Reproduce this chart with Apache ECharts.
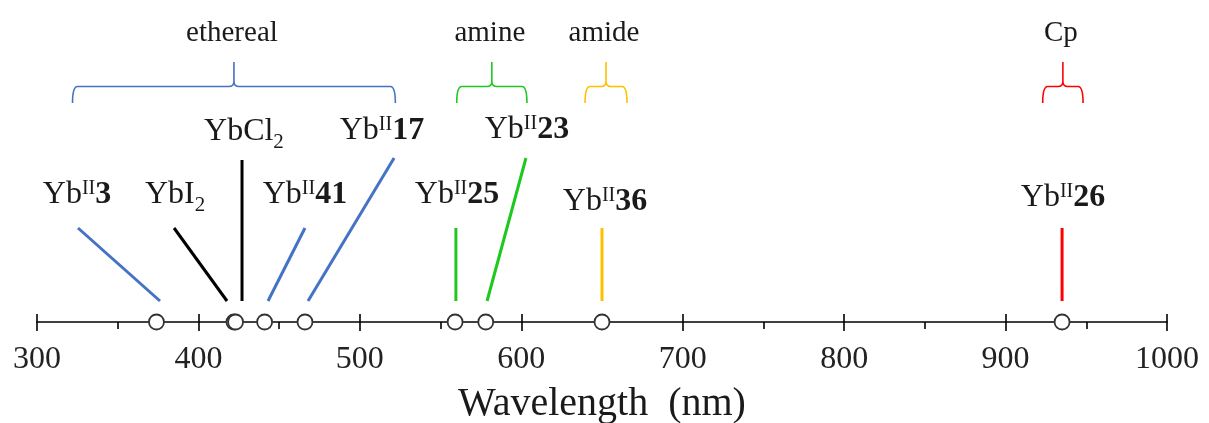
<!DOCTYPE html>
<html>
<head>
<meta charset="utf-8">
<script src="https://cdn.jsdelivr.net/npm/echarts@6/dist/echarts.min.js"></script>
<style>
  html, body { margin: 0; padding: 0; background: #fff; }
  #chart { width: 1209px; height: 423px; }
</style>
</head>
<body>
<div id="chart"></div>
<script>
// Yb(II) species and their absorption maxima (nm)
const species = ['YbII3', 'YbI2', 'YbCl2', 'YbII41', 'YbII17', 'YbII25', 'YbII23', 'YbII36', 'YbII26'];
const speciesLabels = [
  '{t|Yb}{sup|II}{b|3}',
  '{t|YbI}{sub|2}',
  '{t|YbCl}{sub|2}',
  '{t|Yb}{sup|II}{b|41}',
  '{t|Yb}{sup|II}{b|17}',
  '{t|Yb}{sup|II}{b|25}',
  '{t|Yb}{sup|II}{b|23}',
  '{t|Yb}{sup|II}{b|36}',
  '{t|Yb}{sup|II}{b|26}'
];
const wavelengths = [374, 422, 423, 441, 466, 559, 578, 650, 935];
const ligandClass = ['ethereal', null, null, 'ethereal', 'ethereal', 'amine', 'amine', 'amide', 'Cp'];

// ligand classes and the wavelength span (nm) each bracket covers
const classNames = ['ethereal', 'amine', 'amide', 'Cp'];
const classFrom = [322, 560, 639.5, 923];
const classTo = [522, 603.5, 665.5, 948];

// axis ticks (nm)
const tickValues = [300, 400, 500, 600, 700, 800, 900, 1000];
const axisTitle = 'Wavelength  (nm)';

// ---- layout (vertical unit = 1px above the axis) ----
const labelX = [324.8, 385.5, 428.2, 466, 513.7, 560.2, 603.5, 651.9, 935.6];
const labelY = [127, 127, 190, 127, 191, 127, 192, 120, 124];
const leaderTopX = [325.4, 384.9, 427, 466, 521.2, 559.5, 602.9, 650, 935];
const leaderTopY = [94, 94, 162, 94, 164, 94, 164, 94, 94];
const leaderFootX = [376.2, 417.7, 427, 443.1, 467.9, 559.5, 578.8, 650, 935];
const leaderFootY = 21;
const bracketStemTop = 260, bracketBar = 235.5, bracketEnd = 219, bracketTitleY = 289;

const classColors = { ethereal: '#4472C4', amine: '#1EC81E', amide: '#FFC000', Cp: '#FF0000' };
const colorOf = c => (c ? classColors[c] : '#000000');

const SERIF = '"Liberation Serif", "Times New Roman", serif';
const TEXT = '#1a1a1a';
const rich = {
  t:   { fontFamily: SERIF, fontSize: 32, fill: TEXT, verticalAlign: 'middle' },
  b:   { fontFamily: SERIF, fontSize: 32, fontWeight: 'bold', fill: TEXT, verticalAlign: 'middle' },
  sup: { fontFamily: SERIF, fontSize: 20, fill: TEXT, verticalAlign: 'middle', padding: [0, 0, 12, 0] },
  sub: { fontFamily: SERIF, fontSize: 21, fill: TEXT, verticalAlign: 'middle', padding: [20, 0, 0, 0] }
};

const chart = echarts.init(document.getElementById('chart'), null, { renderer: 'canvas' });

const tickStep = tickValues[1] - tickValues[0];
const baseAxis = {
  type: 'value',
  min: tickValues[0],
  max: tickValues[tickValues.length - 1],
  interval: tickStep,
  position: 'bottom',
  splitLine: { show: false }
};

const option = {
  animation: false,
  backgroundColor: '#ffffff',
  grid: { left: 37, right: 42, top: 0, bottom: 101, containLabel: false, outerBoundsMode: 'none' },
  xAxis: [
    Object.assign({}, baseAxis, {
      axisLine: { show: true, lineStyle: { color: '#000', width: 1.6 } },
      axisTick: { show: true, inside: false, length: 9, lineStyle: { color: '#000', width: 1.6 } },
      minorTick: { show: true, splitNumber: 2, length: 7, lineStyle: { color: '#000', width: 1.6 } },
      axisLabel: {
        show: true, margin: 22, fontFamily: SERIF, fontSize: 32, color: '#222',
        formatter: v => String(v)
      },
      name: axisTitle,
      nameLocation: 'middle',
      nameGap: 62,
      nameTextStyle: { fontFamily: SERIF, fontSize: 40, color: TEXT }
    }),
    Object.assign({}, baseAxis, {
      axisLine: { show: false },
      axisTick: { show: true, inside: true, length: 8, lineStyle: { color: '#000', width: 1.6 } },
      axisLabel: { show: false }
    })
  ],
  yAxis: { type: 'value', min: 0, max: 322, show: false },
  series: [
    {
      // leader lines and species labels
      type: 'custom',
      xAxisIndex: 0,
      clip: false,
      z: 3,
      data: wavelengths.map(w => [w, 0]),
      renderItem(params, api) {
        const i = params.dataIndex;
        const top = api.coord([leaderTopX[i], leaderTopY[i]]);
        const foot = api.coord([leaderFootX[i], leaderFootY]);
        const lab = api.coord([labelX[i], labelY[i]]);
        return {
          type: 'group',
          children: [
            {
              type: 'line',
              shape: { x1: top[0], y1: top[1], x2: foot[0], y2: foot[1] },
              style: { stroke: colorOf(ligandClass[i]), lineWidth: 3, lineCap: 'butt' }
            },
            {
              type: 'text',
              x: lab[0],
              y: lab[1],
              style: { text: speciesLabels[i], rich: rich, align: 'center', verticalAlign: 'middle' }
            }
          ]
        };
      }
    },
    {
      // ligand-class brackets
      type: 'custom',
      xAxisIndex: 0,
      clip: false,
      z: 3,
      data: classNames.map((n, i) => [(classFrom[i] + classTo[i]) / 2, 0]),
      renderItem(params, api) {
        const i = params.dataIndex;
        const mid = (classFrom[i] + classTo[i]) / 2;
        const x0 = api.coord([classFrom[i], 0])[0];
        const x1 = api.coord([classTo[i], 0])[0];
        const xm = api.coord([mid, 0])[0];
        const yTop = api.coord([mid, bracketStemTop])[1];
        const yBar = api.coord([mid, bracketBar])[1];
        const yEnd = api.coord([mid, bracketEnd])[1];
        const yTitle = api.coord([mid, bracketTitleY])[1];
        const r = 5;
        const d =
          `M${x0},${yEnd} Q${x0},${yBar} ${x0 + r},${yBar} L${xm - r},${yBar} Q${xm},${yBar} ${xm},${yBar - r} L${xm},${yTop} ` +
          `M${xm},${yBar - r} Q${xm},${yBar} ${xm + r},${yBar} L${x1 - r},${yBar} Q${x1},${yBar} ${x1},${yEnd}`;
        return {
          type: 'group',
          children: [
            {
              type: 'path',
              shape: { pathData: d },
              style: { stroke: classColors[classNames[i]], lineWidth: 1.6, fill: null }
            },
            {
              type: 'text',
              x: xm - 2,
              y: yTitle,
              style: {
                text: classNames[i], fontFamily: SERIF, fontSize: 29, fill: TEXT,
                align: 'center', verticalAlign: 'middle'
              }
            }
          ]
        };
      }
    },
    {
      // absorption maxima on the wavelength axis
      type: 'scatter',
      xAxisIndex: 0,
      z: 5,
      symbol: 'circle',
      symbolSize: 15,
      itemStyle: { color: '#ffffff', borderColor: '#333333', borderWidth: 1.8, opacity: 1 },
      data: wavelengths.map((w, i) => ({ name: species[i], value: [w, 0] }))
    }
  ]
};

chart.setOption(option);
</script>
</body>
</html>
